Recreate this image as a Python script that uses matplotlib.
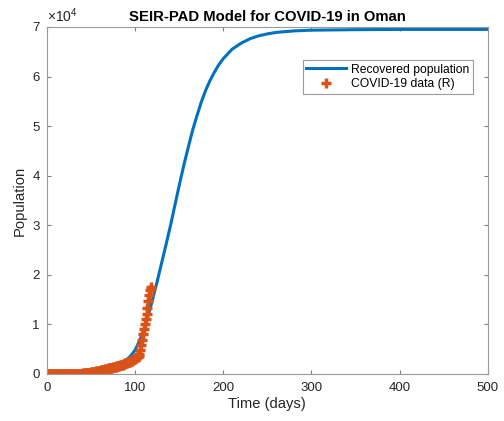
import numpy as np
import matplotlib
matplotlib.use('Agg')
from matplotlib import pyplot as plt
from matplotlib.ticker import FuncFormatter

plt.rcParams['font.family'] = ['Liberation Sans', 'DejaVu Sans']
plt.rcParams['mathtext.fontset'] = 'custom'
plt.rcParams['mathtext.rm'] = 'Liberation Sans'

# model curve: recovered population
model_days = [0, 10, 20, 30, 40, 50, 60, 70, 80, 90, 95, 100, 105, 110, 115, 120,
              125, 130, 135, 140, 145, 150, 155, 160, 165, 170, 175, 180, 185,
              190, 195, 200, 210, 220, 230, 240, 250, 260, 280, 300, 350, 400, 500]
model_recovered = [0, 30, 80, 180, 350, 600, 900, 1300, 1900, 2800, 3600, 4800,
                   6600, 9000, 11900, 15100, 18600, 22300, 26000, 29800, 33900,
                   38000, 41900, 45500, 49000, 52000, 54800, 57200, 59200, 60900,
                   62400, 63600, 65500, 66700, 67600, 68200, 68600, 68900, 69200,
                   69350, 69450, 69500, 69500]

# reported recovered cases, one value per day from day 0
data_recovered = [
    0, 0, 0, 0, 0, 0, 0, 0, 0, 0,
    2, 2, 2, 2, 2, 2, 2, 9, 9, 9,
    9, 9, 12, 12, 12, 13, 17, 17, 17, 17,
    23, 23, 23, 29, 29, 34, 34, 41, 57, 61,
    70, 90, 110, 130, 150, 170, 190, 210, 230, 260,
    290, 320, 350, 380, 410, 440, 480, 520, 560, 600,
    640, 680, 720, 770, 820, 870, 920, 970, 1020, 1070,
    1110, 1150, 1190, 1230, 1270, 1310, 1350, 1390, 1440, 1490,
    1540, 1590, 1640, 1700, 1760, 1820, 1880, 1950, 2020, 2100,
    2180, 2250, 2320, 2400, 2480, 2560, 2640, 2720, 2810, 2900,
    3000, 3150, 3300, 3500, 3700, 4000, 4800, 5800, 6900, 8000,
    9000, 10000, 11000, 12000, 13300, 14600, 16000, 17000, 17600,
]
data_days = list(range(len(data_recovered)))

fig = plt.figure(figsize=(5.04, 4.21), dpi=100)
ax = fig.add_axes([0.093, 0.112, 0.875, 0.824])

ax.plot(model_days, model_recovered, '-', color='#0072BD', linewidth=2.2,
        label='Recovered population')
ax.plot(data_days, data_recovered, '+', color='#D95319', markersize=7,
        markeredgewidth=2.5, label='COVID-19 data (R)')

ax.set_xlim(0, 500)
ax.set_ylim(0, 70000)
ax.set_xticks(np.arange(0, 501, 100))
ax.set_yticks(np.arange(0, 70001, 10000))
ax.yaxis.set_major_formatter(FuncFormatter(lambda v, p: f'{v / 1e4:g}'))
ax.text(0.0, 1.006, r'$\times10^{4}$', transform=ax.transAxes, fontsize=10,
        color='#262626', ha='left', va='bottom')
ax.tick_params(direction='in', top=True, right=True, labelsize=9.5,
               length=3, color='#808080', labelcolor='#262626')
ax.tick_params(axis='x', pad=6)
ax.tick_params(axis='y', pad=5)
for s in ax.spines.values():
    s.set_color('#9a9a9a')
    s.set_linewidth(0.8)

ax.set_title('SEIR-PAD Model for COVID-19 in Oman', fontsize=10.7,
             fontweight='bold', pad=4)
ax.set_xlabel('Time (days)', fontsize=10.6, color='#262626', labelpad=2)
ax.set_ylabel('Population', fontsize=10.6, color='#262626', labelpad=4)

leg = ax.legend(loc='upper right', bbox_to_anchor=(0.966, 0.905), fontsize=8.7,
                fancybox=False, framealpha=1, edgecolor='#9a9a9a',
                handlelength=3.3, borderpad=0.3, labelspacing=0.2,
                handletextpad=0.4, borderaxespad=0)
leg.get_frame().set_linewidth(0.8)

fig.savefig('out.png', dpi=100)
